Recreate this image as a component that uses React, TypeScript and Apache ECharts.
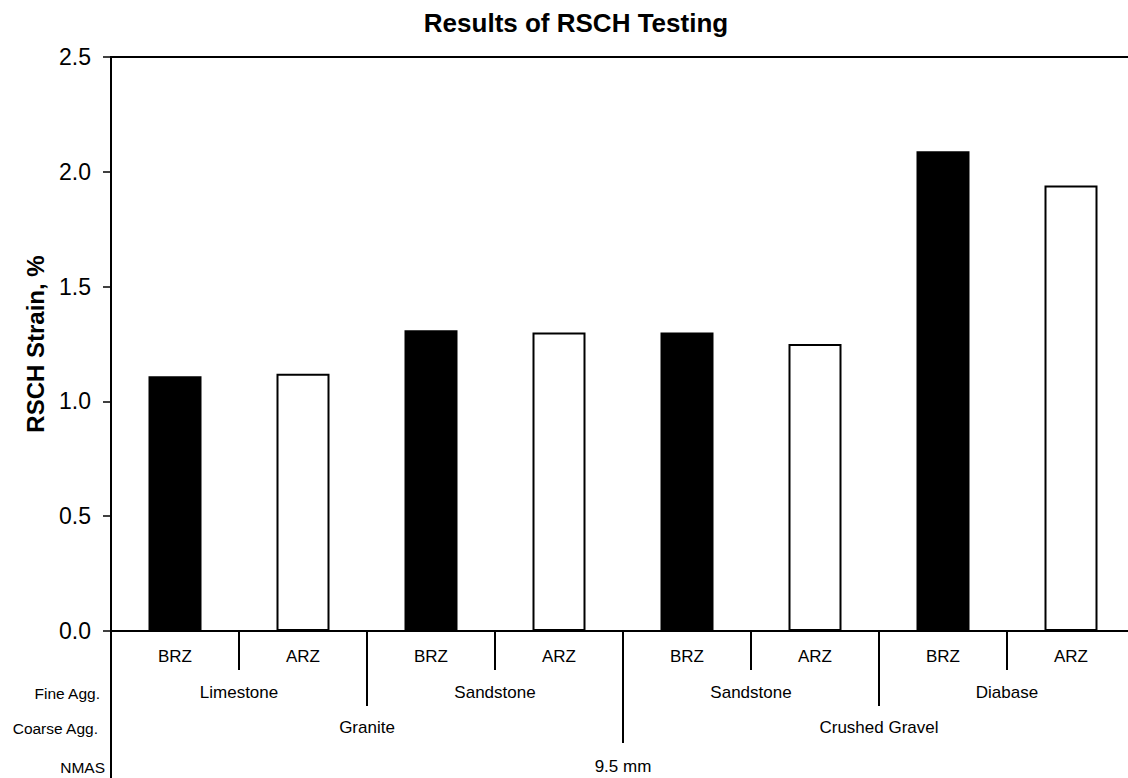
import React, { useEffect, useRef } from "react";
import * as echarts from "echarts";

const zoneLabels = ["BRZ", "ARZ", "BRZ", "ARZ", "BRZ", "ARZ", "BRZ", "ARZ"];
const strainValues = [1.11, 1.12, 1.31, 1.3, 1.3, 1.25, 2.09, 1.94];
const fineAgg = ["Limestone", "Sandstone", "Sandstone", "Diabase"];
const coarseAgg = ["Granite", "Crushed Gravel"];
const nmas = ["9.5 mm"];
const rowLabels = ["Fine Agg.", "Coarse Agg.", "NMAS"];
const yTickValues = [0, 0.5, 1.0, 1.5, 2.0, 2.5];

const FONT = "'Liberation Sans', Arial, Helvetica, sans-serif";

export default function App() {
  const ref = useRef<HTMLDivElement>(null);

  useEffect(() => {
    if (!ref.current) return;
    const chart = echarts.init(ref.current, null, { renderer: "svg" });

    const levelAxis = (
      data: string[],
      tickLen: number,
      labelMargin: number
    ) => ({
      type: "category",
      position: "bottom",
      offset: 0,
      data,
      boundaryGap: true,
      axisLine: { show: false },
      axisTick: {
        show: true,
        interval: 0,
        length: tickLen,
        lineStyle: { color: "#000", width: 2 },
      },
      axisLabel: {
        interval: 0,
        margin: labelMargin,
        color: "#000",
        fontSize: 17,
        fontFamily: FONT,
      },
      splitLine: { show: false },
    });

    const rowX = [100, 98, 105];
    const rowY = [693, 728, 767];

    chart.setOption({
      animation: false,
      backgroundColor: "#fff",
      title: {
        text: "Results of RSCH Testing",
        left: 571,
        top: 5,
        textAlign: "center",
        textStyle: {
          fontFamily: FONT,
          fontWeight: "bold",
          fontSize: 26,
          color: "#000",
        },
      },
      grid: {
        left: 111,
        top: 57,
        right: 5,
        bottom: 147,
        show: true,
        borderColor: "#000",
        borderWidth: 2,
        containLabel: false,
      },
      xAxis: [
        {
          type: "category",
          position: "bottom",
          data: zoneLabels,
          boundaryGap: true,
          axisLine: { show: true, onZero: false, lineStyle: { color: "#000", width: 2 } },
          axisTick: {
            show: true,
            interval: 0,
            length: 39,
            lineStyle: { color: "#000", width: 2 },
          },
          axisLabel: {
            interval: 0,
            margin: 17,
            color: "#000",
            fontSize: 17,
            fontFamily: FONT,
          },
          splitLine: { show: false },
        },
        levelAxis(fineAgg, 75, 53),
        levelAxis(coarseAgg, 112, 88),
        levelAxis(nmas, 150, 127),
      ],
      yAxis: {
        type: "value",
        min: yTickValues[0],
        max: yTickValues[yTickValues.length - 1],
        interval: 0.5,
        name: "RSCH Strain, %",
        nameLocation: "middle",
        nameGap: 64,
        nameTextStyle: {
          fontFamily: FONT,
          fontWeight: "bold",
          fontSize: 24,
          color: "#000",
        },
        axisLine: { show: true, lineStyle: { color: "#000", width: 2 } },
        axisTick: { show: true, length: 8, lineStyle: { color: "#000", width: 1.5 } },
        axisLabel: {
          margin: 20,
          color: "#000",
          fontSize: 23,
          fontFamily: FONT,
          formatter: (v: number) => v.toFixed(1),
        },
        splitLine: { show: false },
      },
      series: [
        {
          type: "bar",
          xAxisIndex: 0,
          barWidth: 53,
          data: strainValues.map((v, i) => ({
            value: v,
            itemStyle:
              zoneLabels[i] === "BRZ"
                ? { color: "#000", borderColor: "#000", borderWidth: 0 }
                : { color: "#fff", borderColor: "#000", borderWidth: 2 },
          })),
        },
      ],
      graphic: rowLabels.map((t, i) => ({
        type: "text",
        x: rowX[i],
        y: rowY[i],
        style: {
          text: t,
          fill: "#000",
          fontSize: 15.5,
          fontFamily: FONT,
          align: "right",
          verticalAlign: "middle",
        },
      })),
    });

    return () => chart.dispose();
  }, []);

  return (
    <div
      style={{
        position: "fixed",
        left: 0,
        top: 0,
        width: 1128,
        height: 778,
        overflow: "hidden",
        background: "#fff",
      }}
    >
      <div ref={ref} style={{ width: 1140, height: 778 }} />
    </div>
  );
}
